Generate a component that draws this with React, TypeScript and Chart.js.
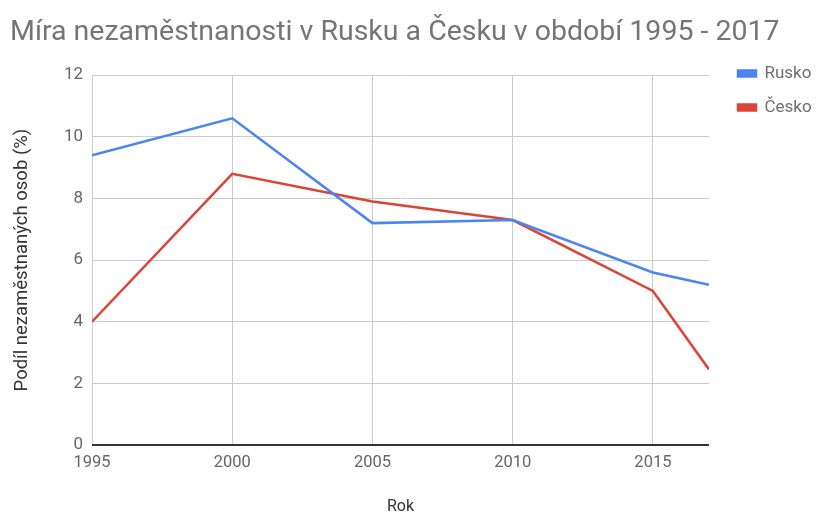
import React, { useEffect, useRef } from "react";
import { Chart, registerables } from "chart.js";

Chart.register(...registerables);

const years = [1995, 2000, 2005, 2010, 2015, 2017];
const rusko = [9.4, 10.6, 7.2, 7.3, 5.6, 5.2];
const cesko = [4.0, 8.8, 7.9, 7.3, 5.0, 2.45];
const xTickValues = [1995, 2000, 2005, 2010, 2015];
const seriesNames = ["Rusko", "Česko"];
const titleText = "Míra nezaměstnanosti v Rusku a Česku v období 1995 - 2017";
const xTitle = "Rok";
const yTitle = "Podíl nezaměstnaných osob (%)";

const legendShift = {
  id: "legendShift",
  afterLayout(chart: any) {
    const lg = chart.legend;
    if (lg) {
      lg.left += 12;
      lg.right += 12;
      lg.top += 48;
      lg.bottom += 48;
    }
  },
};

export default function App() {
  const ref = useRef<HTMLCanvasElement | null>(null);
  useEffect(() => {
    document.body.style.margin = "0";
    const ctx = ref.current!;
    const chart = new Chart(ctx, {
      type: "line",
      data: {
        datasets: [
          {
            label: seriesNames[0],
            data: years.map((y, i) => ({ x: y, y: rusko[i] })),
            borderColor: "#4a86f0",
            backgroundColor: "#4a86f0",
            borderWidth: 2.5,
            pointRadius: 0,
            tension: 0,
          },
          {
            label: seriesNames[1],
            data: years.map((y, i) => ({ x: y, y: cesko[i] })),
            borderColor: "#db4437",
            backgroundColor: "#db4437",
            borderWidth: 2.5,
            pointRadius: 0,
            tension: 0,
          },
        ],
      },
      plugins: [legendShift],
      options: {
        responsive: false,
        animation: false,
        layout: { padding: { left: 10, right: 0, top: 0, bottom: 0 } },
        plugins: {
          title: {
            display: true,
            text: titleText,
            align: "start",
            color: "#757575",
            font: { family: "Roboto", size: 28.5, weight: "normal" },
            padding: { top: 16, bottom: 25 },
          },
          legend: {
            position: "right",
            align: "start",
            labels: {
              boxWidth: 18,
              boxHeight: 6,
              color: "#6f6f6f",
              font: { family: "Roboto", size: 17 },
              padding: 17,
            },
          },
          tooltip: { enabled: false },
        },
        scales: {
          x: {
            type: "linear",
            min: 1995,
            max: 2017,
            afterBuildTicks: (axis: any) => {
              axis.ticks = xTickValues.map((v) => ({ value: v }));
            },
            afterFit: (axis: any) => {
              axis.height = 70;
              axis.paddingRight = 107;
            },
            ticks: {
              autoSkip: false,
              color: "#666666",
              font: { family: "Roboto", size: 16.5 },
              maxRotation: 0,
              padding: 8,
              callback: (v: any) => String(v),
            },
            grid: { color: "#cccccc", drawTicks: false },
            border: { display: false },
            title: {
              display: true,
              text: xTitle,
              color: "#333333",
              font: { family: "Roboto", size: 16 },
              padding: { top: 0, bottom: -2 },
            },
          },
          y: {
            min: 0,
            max: 12,
            afterFit: (axis: any) => {
              axis.width = 82;
            },
            ticks: {
              stepSize: 2,
              color: "#666666",
              font: { family: "Roboto", size: 17 },
              padding: 9,
            },
            grid: {
              color: (c: any) => (c.tick && c.tick.value === 0 ? "#333333" : "#cccccc"),
              lineWidth: (c: any) => (c.tick && c.tick.value === 0 ? 2 : 1),
              drawTicks: false,
            },
            border: { display: false },
            title: {
              display: true,
              text: yTitle,
              color: "#333333",
              font: { family: "Roboto", size: 18.5 },
              padding: { top: 1, bottom: 0 },
            },
          },
        },
      },
    });
    return () => chart.destroy();
  }, []);
  return (
    <div style={{ position: "absolute", left: 0, top: 0, width: 816, height: 515 }}>
      <canvas ref={ref} width={816} height={515} style={{ width: 816, height: 515 }} />
    </div>
  );
}
